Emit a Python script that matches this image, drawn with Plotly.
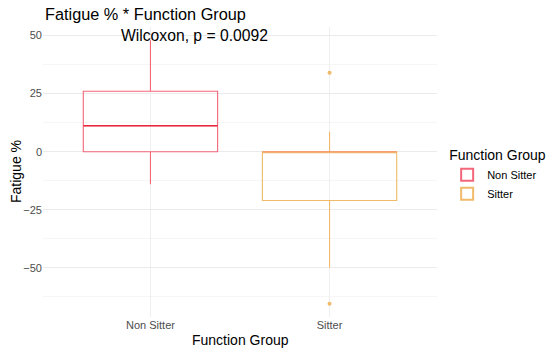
import plotly.graph_objects as go

groups = ["Non Sitter", "Sitter"]
q1 = [0.0, -21.0]
median = [11.2, 0.0]
q3 = [26.0, 0.0]
lower_fence = [-14.0, -50.0]
upper_fence = [48.0, 8.6]
outliers = [[], [34.0, -65.5]]
colors = ["#F4667A", "#F0BA6A"]
median_colors = ["#E8283C", "#F5A070"]

box_width = 0.75

fig = go.Figure()
for i, g in enumerate(groups):
    fig.add_trace(go.Box(
        x=[g], q1=[q1[i]], median=[median[i]], q3=[q3[i]],
        lowerfence=[lower_fence[i]], upperfence=[upper_fence[i]],
        name=g, line=dict(color=colors[i], width=1.1), whiskerwidth=0,
        width=box_width,
        fillcolor="rgba(255,255,255,0)", boxpoints=False, showlegend=True,
    ))
    if outliers[i]:
        fig.add_trace(go.Scatter(
            x=[g] * len(outliers[i]), y=outliers[i], mode="markers",
            marker=dict(color=colors[i], size=4), showlegend=False, hoverinfo="y",
        ))
    fig.add_shape(type="line", xref="x", yref="y",
                  x0=i - box_width / 2, x1=i + box_width / 2, y0=median[i], y1=median[i],
                  line=dict(color=median_colors[i], width=1.6))

fig.add_annotation(text="Wilcoxon, p = 0.0092", x=0.246, xref="x", y=50, yref="y",
                   showarrow=False, font=dict(size=15.7, color="black"), yanchor="middle")
fig.add_annotation(text="Function Group", x=0.5, xref="paper", y=-0.079, yref="paper",
                   showarrow=False, font=dict(size=14, color="black"), yanchor="middle")
fig.add_annotation(text="Fatigue %", x=-0.0685, xref="paper", y=0.5, yref="paper",
                   showarrow=False, font=dict(size=14, color="black"), textangle=-90,
                   xanchor="center", yanchor="middle")

font_family = "Liberation Sans, Arial, sans-serif"
fig.update_layout(
    width=550, height=353,
    margin=dict(l=43, r=113, t=27, b=36),
    paper_bgcolor="white", plot_bgcolor="white",
    font=dict(family=font_family),
    title=dict(text="Fatigue % * Function Group", x=45 / 550, xanchor="left", y=1 - 14 / 353,
               yanchor="middle", font=dict(size=16.3, color="black"),
               pad=dict(l=0, t=0, r=0, b=0)),
    legend=dict(title=dict(text="Function Group", font=dict(size=14, color="black")),
                font=dict(size=11, color="black"), xref="container", x=0.813, xanchor="left",
                yref="container", y=1 - 142 / 353, yanchor="top",
                tracegroupgap=0, itemsizing="constant", itemwidth=30),
    xaxis=dict(automargin=False,
               tickfont=dict(size=11, color="#4D4D4D"), showgrid=True, gridcolor="#EFEFEF",
               zeroline=False, showline=False, ticks="", range=[-0.6, 1.6],
               categoryorder="array", categoryarray=groups),
    yaxis=dict(automargin=False,
               tickfont=dict(size=11, color="#4D4D4D"), range=[-71.2, 53.7],
               tick0=0, dtick=25, showgrid=True, gridcolor="#EBEBEB", zeroline=False,
               minor=dict(dtick=12.5, showgrid=True, gridcolor="#F6F6F6"), ticks=""),
)

fig.write_html("out.html", post_script="document.body.style.margin='0';",
               config={"displayModeBar": False})
